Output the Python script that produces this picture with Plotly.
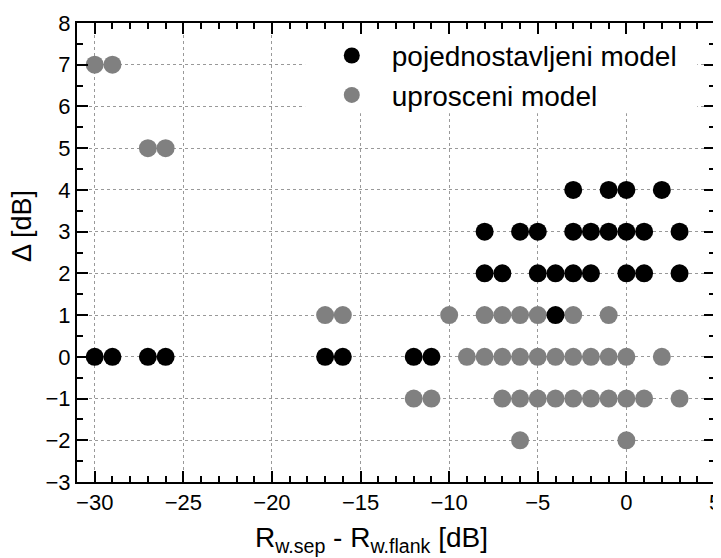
import plotly.graph_objects as go

# pojednostavljeni model (black)
black_x = [-30, -29, -27, -26, -17, -16, -12, -11,
           -4,
           -8, -7, -5, -4, -3, -2, 0, 1, 3,
           -8, -6, -5, -3, -2, -1, 0, 1, 3,
           -3, -1, 0, 2]
black_y = [0, 0, 0, 0, 0, 0, 0, 0,
           1,
           2, 2, 2, 2, 2, 2, 2, 2, 2,
           3, 3, 3, 3, 3, 3, 3, 3, 3,
           4, 4, 4, 4]

# uprosceni model (gray)
gray_x = [-30, -29,
          -27, -26,
          -17, -16, -10, -8, -7, -6, -5, -3, -1,
          -9, -8, -7, -6, -5, -4, -3, -2, -1, 0, 2,
          -12, -11, -7, -6, -5, -4, -3, -2, -1, 0, 1, 3,
          -6, 0]
gray_y = [7, 7,
          5, 5,
          1, 1, 1, 1, 1, 1, 1, 1, 1,
          0, 0, 0, 0, 0, 0, 0, 0, 0, 0, 0,
          -1, -1, -1, -1, -1, -1, -1, -1, -1, -1, -1, -1,
          -2, -2]

x_range = [-31, 5]
y_range = [-3, 8]
x_major_step = 5
y_major_step = 1

FONT = "Arial, Liberation Sans, sans-serif"

fig = go.Figure()
fig.add_trace(go.Scatter(
    x=gray_x, y=gray_y, mode="markers", name="uprosceni model",
    marker=dict(color="#808080", size=18, line=dict(width=0)),
    legendrank=2,
))
fig.add_trace(go.Scatter(
    x=black_x, y=black_y, mode="markers", name="pojednostavljeni model",
    marker=dict(color="#000000", size=18, line=dict(width=0)),
    legendrank=1,
))

# white box behind the legend, hiding the grid there
fig.add_shape(type="rect", xref="x", yref="y", x0=-18.13, x1=4.0, y0=5.84, y1=8,
              fillcolor="white", line=dict(width=0), layer="between")

axis_common = dict(
    automargin=False, ticklabeloverflow="allow",
    showline=True, linecolor="#000000", linewidth=2, mirror="ticks",
    ticks="inside", ticklen=11, tickwidth=2, tickcolor="#000000",
    showgrid=True, gridcolor="#999999", gridwidth=1, griddash="dot", zeroline=False,
    tickfont=dict(family=FONT, size=22, color="#000000"),
)

fig.update_xaxes(
    range=x_range, tickmode="linear", tick0=0, dtick=x_major_step,
    minor=dict(dtick=1, ticks="inside", ticklen=6, tickwidth=2, tickcolor="#000000"),
    **axis_common,
)
fig.update_yaxes(
    range=y_range, tickmode="linear", tick0=0, dtick=y_major_step,
    minor=dict(dtick=0.5, ticks="inside", ticklen=6, tickwidth=2, tickcolor="#000000"),
    **axis_common,
)

fig.add_annotation(
    text="R<sub>w.sep</sub> - R<sub>w.flank</sub> [dB]", xref="paper", yref="paper",
    x=0.462, y=-0.125, xanchor="center", yanchor="middle", showarrow=False,
    font=dict(family=FONT, size=28, color="#000000"),
)
fig.add_annotation(
    text="Δ [dB]", xref="paper", yref="paper", textangle=-90,
    x=-0.086, y=0.558, xanchor="center", yanchor="middle", showarrow=False,
    font=dict(family=FONT, size=27, color="#000000"),
)

fig.update_layout(
    width=713, height=550,
    margin=dict(l=69, r=6, t=15, b=76, autoexpand=False),
    paper_bgcolor="white", plot_bgcolor="white",
    showlegend=True,
    legend=dict(
        x=0.368, y=0.983, xanchor="left", yanchor="top",
        bgcolor="rgba(0,0,0,0)", borderwidth=0,
        font=dict(family=FONT, size=28, color="#000000"),
        itemwidth=70, tracegroupgap=0,
    ),
)

fig.write_html("out.html")
